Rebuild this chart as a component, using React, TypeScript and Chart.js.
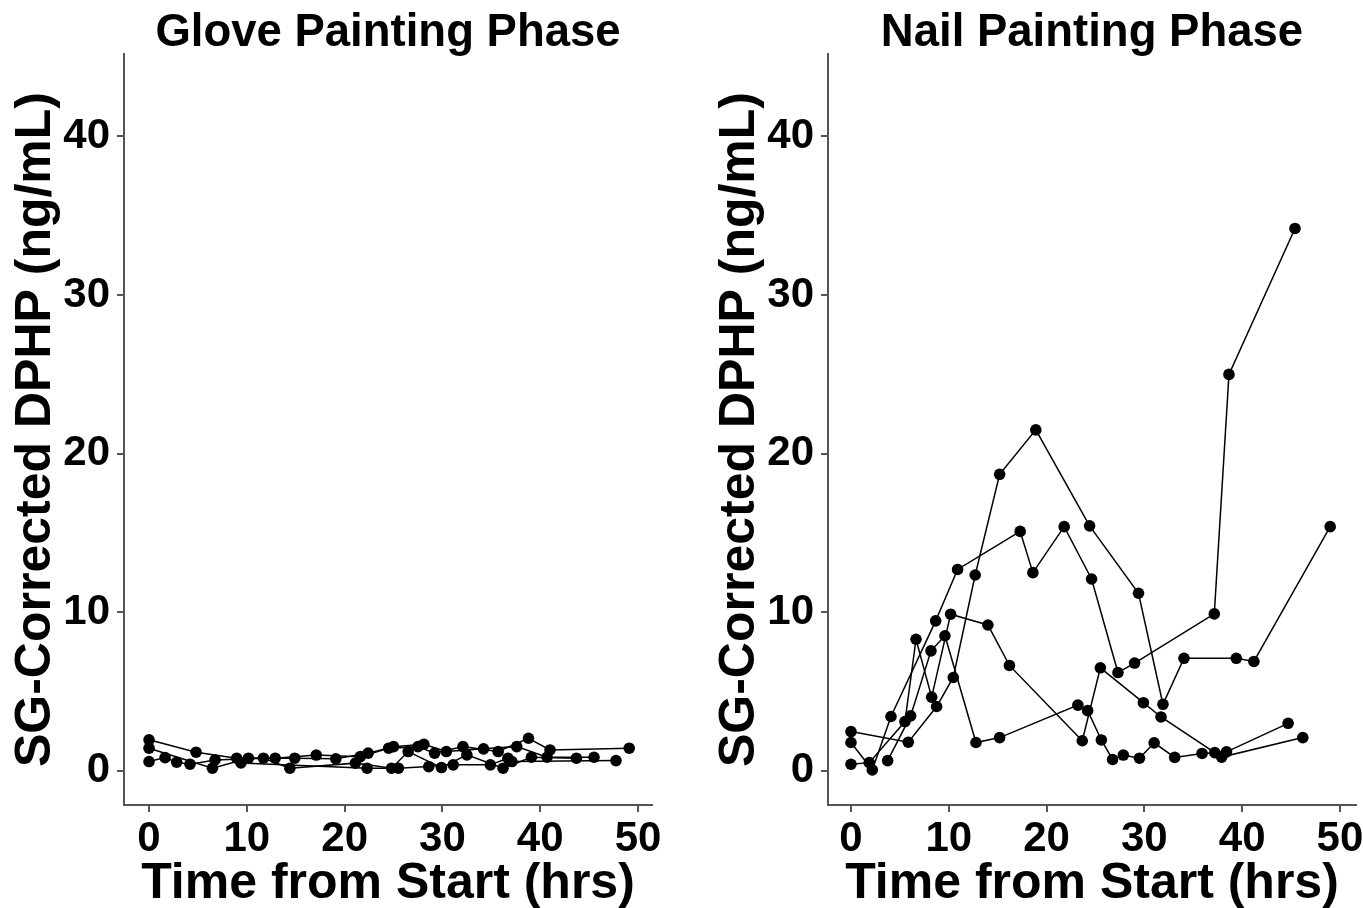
import React, { useEffect, useRef } from "react";
import { Chart, registerables } from "chart.js";

Chart.register(...registerables);

const FONT = '"Liberation Sans", Arial, Helvetica, sans-serif';

const panelTitles = ["Glove Painting Phase", "Nail Painting Phase"];
const xAxisLabel = "Time from Start (hrs)";
const yAxisLabel = "SG-Corrected DPHP (ng/mL)";
const xTickValues = [0, 10, 20, 30, 40, 50];
const yTickValues = [0, 10, 20, 30, 40];

// Glove painting phase (participants 1-4)
const gloveHours1 = [0, 4.81, 8.96, 12.9, 17.1, 21.6, 24.5, 27.5, 29.2, 32.1, 35.7, 38.8, 41.0, 49.1];
const gloveDphp1 = [1.96, 1.18, 0.8, 0.8, 1.0, 0.9, 1.43, 1.53, 1.12, 1.53, 1.22, 2.06, 1.32, 1.43];
const gloveHours2 = [0, 6.48, 10.16, 14.9, 19.1, 22.4, 25.0, 28.1, 30.4, 34.2, 37.6, 40.7, 45.5];
const gloveDphp2 = [1.43, 0.17, 0.8, 0.8, 0.76, 1.12, 1.53, 1.68, 1.22, 1.39, 1.53, 0.86, 0.86];
const gloveHours3 = [0, 1.64, 2.83, 4.19, 6.75, 11.7, 14.4, 21.1, 24.8, 26.5, 29.9, 32.5, 36.2, 39.1, 43.7];
const gloveDphp3 = [0.59, 0.84, 0.55, 0.42, 0.69, 0.8, 0.17, 0.49, 0.17, 1.22, 0.21, 1.01, 0.17, 0.86, 0.8];
const gloveHours4 = [9.4, 22.3, 25.5, 28.6, 31.1, 34.9, 36.7, 37.1, 47.75];
const gloveDphp4 = [0.5, 0.17, 0.17, 0.27, 0.38, 0.38, 0.8, 0.59, 0.65];

// Nail painting phase (participants 1-4)
const nailHours1 = [0, 2.18, 4.09, 8.66, 10.9, 17.3, 18.6, 21.8, 24.6, 27.3, 29.0, 37.15, 38.65, 45.4];
const nailDphp1 = [1.79, 0.06, 3.43, 9.46, 12.7, 15.1, 12.5, 15.4, 12.1, 6.2, 6.8, 9.9, 25.0, 34.2];
const nailHours2 = [0, 5.86, 8.76, 10.46, 12.7, 15.2, 18.9, 24.4, 29.4, 31.9, 34.05, 39.4, 41.2, 49.0];
const nailDphp2 = [2.48, 1.81, 4.06, 5.89, 12.35, 18.7, 21.5, 15.45, 11.2, 4.2, 7.1, 7.1, 6.9, 15.4];
const nailHours3 = [0, 1.87, 5.52, 6.65, 8.25, 10.19, 14.0, 16.2, 23.65, 25.5, 29.9, 31.7, 37.9, 46.2];
const nailDphp3 = [0.42, 0.52, 3.11, 8.3, 4.65, 9.88, 9.2, 6.65, 1.9, 6.5, 4.3, 3.4, 0.87, 2.1];
const nailHours4 = [3.75, 6.1, 8.18, 9.61, 12.78, 15.2, 23.2, 24.2, 25.6, 26.75, 27.85, 29.5, 31.0, 33.1, 35.9, 37.2, 38.4, 44.7];
const nailDphp4 = [0.65, 3.47, 7.57, 8.52, 1.79, 2.1, 4.15, 3.8, 1.95, 0.72, 1.0, 0.8, 1.77, 0.85, 1.1, 1.15, 1.2, 3.0];

const gloveHours = [gloveHours1, gloveHours2, gloveHours3, gloveHours4];
const gloveDphp = [gloveDphp1, gloveDphp2, gloveDphp3, gloveDphp4];
const nailHours = [nailHours1, nailHours2, nailHours3, nailHours4];
const nailDphp = [nailDphp1, nailDphp2, nailDphp3, nailDphp4];

const AXIS_COLOR = "#555555";

type PanelProps = {
  left: number;
  width: number;
  padRight: number;
  title: string;
  hours: number[][];
  values: number[][];
  xMin: number;
  xMax: number;
};

function Panel({ left, width, padRight, title, hours, values, xMin, xMax }: PanelProps) {
  const ref = useRef<HTMLCanvasElement | null>(null);

  useEffect(() => {
    if (!ref.current) return;
    const datasets = hours.map((h, i) => ({
      data: h.map((x, j) => ({ x, y: values[i][j] })),
      showLine: true,
      borderColor: "#000000",
      borderWidth: 1.5,
      pointRadius: 5.8,
      pointHoverRadius: 5.8,
      pointBackgroundColor: "#000000",
      pointBorderWidth: 0,
    }));

    const titlePlugin = {
      id: "panelTitle",
      afterDraw(chart: any) {
        const { ctx, chartArea } = chart;
        ctx.save();
        ctx.fillStyle = "#000000";
        ctx.font = `bold 45.5px ${FONT}`;
        ctx.textAlign = "center";
        ctx.textBaseline = "alphabetic";
        ctx.fillText(title, (chartArea.left + chartArea.right) / 2, 46);
        ctx.restore();
      },
    };

    const chart = new Chart(ref.current, {
      type: "scatter",
      data: { datasets },
      plugins: [titlePlugin],
      options: {
        animation: false,
        responsive: false,
        maintainAspectRatio: false,
        layout: { padding: { left: 0, right: padRight, top: 54, bottom: 0 } },
        plugins: {
          legend: { display: false },
          tooltip: { enabled: false },
          title: { display: false },
        },
        scales: {
          x: {
            type: "linear",
            min: xMin,
            max: xMax,
            afterBuildTicks: (scale: any) => {
              scale.ticks = xTickValues.map((v) => ({ value: v }));
            },
            afterFit: (scale: any) => {
              scale.height = 103;
              scale.paddingLeft = 0;
              scale.paddingRight = 0;
            },
            grid: {
              display: true,
              drawOnChartArea: false,
              drawTicks: true,
              tickLength: 7,
              color: AXIS_COLOR,
              lineWidth: 2,
            },
            border: { display: true, color: AXIS_COLOR, width: 2 },
            ticks: {
              color: "#000000",
              font: { family: FONT, size: 42, weight: "bold", lineHeight: 1 },
              padding: 6,
              maxRotation: 0,
              autoSkip: false,
            },
            title: {
              display: true,
              text: xAxisLabel,
              color: "#000000",
              font: { family: FONT, size: 50, weight: "bold", lineHeight: 0.96 },
              padding: { top: 0, bottom: 0 },
            },
          },
          y: {
            type: "linear",
            min: -2.15,
            max: 45.2,
            afterBuildTicks: (scale: any) => {
              scale.ticks = yTickValues.map((v) => ({ value: v }));
            },
            afterFit: (scale: any) => {
              scale.width = 124;
              scale.paddingTop = 0;
              scale.paddingBottom = 0;
            },
            grid: {
              display: true,
              drawOnChartArea: false,
              drawTicks: true,
              tickLength: 7,
              color: AXIS_COLOR,
              lineWidth: 2,
            },
            border: { display: true, color: AXIS_COLOR, width: 2 },
            ticks: {
              color: "#000000",
              font: { family: FONT, size: 42, weight: "bold", lineHeight: 1 },
              padding: 7,
              autoSkip: false,
            },
            title: {
              display: true,
              text: yAxisLabel,
              color: "#000000",
              font: { family: FONT, size: 50, weight: "bold", lineHeight: 1 },
              padding: { top: 11, bottom: 0 },
            },
          },
        },
      } as any,
    });
    return () => chart.destroy();
  }, []);

  return (
    <canvas
      ref={ref}
      width={width}
      height={908}
      style={{ position: "absolute", left, top: 0, width, height: 908, display: "block" }}
    />
  );
}

export default function App() {
  return (
    <div
      style={{
        position: "absolute",
        left: 0,
        top: 0,
        width: 1363,
        height: 908,
        background: "#ffffff",
        overflow: "hidden",
      }}
    >
      <Panel
        left={0}
        width={680}
        padRight={28}
        title={panelTitles[0]}
        hours={gloveHours}
        values={gloveDphp}
        xMin={-2.56}
        xMax={51.43}
      />
      <Panel
        left={704}
        width={659}
        padRight={7}
        title={panelTitles[1]}
        hours={nailHours}
        values={nailDphp}
        xMin={-2.35}
        xMax={51.64}
      />
    </div>
  );
}
